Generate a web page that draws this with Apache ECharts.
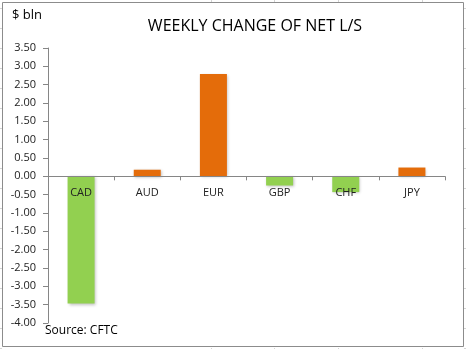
<!DOCTYPE html>
<html>
<head>
<meta charset="utf-8">
<script src="https://cdn.jsdelivr.net/npm/echarts@6/dist/echarts.min.js"></script>
<style>
  html, body { margin: 0; padding: 0; background: #fff; }
  #chart { width: 466px; height: 349px; }
</style>
</head>
<body>
<div id="chart"></div>
<script>
// Weekly change of net long/short positioning, $ bln
const currencies = ['CAD', 'AUD', 'EUR', 'GBP', 'CHF', 'JPY'];
const weeklyChange = [-3.47, 0.18, 2.79, -0.25, -0.43, 0.24];
const yTicks = { min: -4.0, max: 3.5, step: 0.5 };

const POS_COLOR = '#E46C0A';
const NEG_COLOR = '#92D050';

const chart = echarts.init(document.getElementById('chart'), null, { renderer: 'canvas' });

// faint spreadsheet cell lines around the chart frame
const cellLines = [];
for (let y = 8; y < 349; y += 20) {
  cellLines.push({ type: 'line', shape: { x1: 0, y1: y + 0.5, x2: 2, y2: y + 0.5 }, style: { stroke: '#d4d4d4', lineWidth: 1 }, silent: true });
  cellLines.push({ type: 'line', shape: { x1: 464, y1: y + 0.5, x2: 466, y2: y + 0.5 }, style: { stroke: '#d4d4d4', lineWidth: 1 }, silent: true });
}
[211, 274, 338, 422].forEach(x => {
  cellLines.push({ type: 'line', shape: { x1: x + 0.5, y1: 0, x2: x + 0.5, y2: 2 }, style: { stroke: '#d4d4d4', lineWidth: 1 }, silent: true });
  cellLines.push({ type: 'line', shape: { x1: x + 0.5, y1: 348, x2: x + 0.5, y2: 349 }, style: { stroke: '#d4d4d4', lineWidth: 1 }, silent: true });
});

chart.setOption({
  animation: false,
  backgroundColor: '#fff',
  title: {
    text: 'WEEKLY CHANGE OF NET L/S',
    left: 250,
    textAlign: 'center',
    top: 13,
    textStyle: { fontFamily: 'Open Sans', fontSize: 16, fontWeight: 'normal', color: '#000' }
  },
  grid: { left: 48, right: 21, top: 48, bottom: 26, containLabel: false },
  xAxis: {
    type: 'category',
    data: currencies,
    z: 10,
    axisLine: { onZero: false, lineStyle: { color: '#868686', width: 1 } },
    axisTick: { show: true, alignWithLabel: false, length: 4, lineStyle: { color: '#868686' } },
    axisLabel: { margin: 11, fontFamily: 'Open Sans', fontSize: 11, color: '#222' },
    splitLine: { show: false }
  },
  yAxis: {
    type: 'value',
    min: yTicks.min,
    max: yTicks.max,
    interval: yTicks.step,
    axisLine: { show: true, lineStyle: { color: '#868686', width: 1 } },
    axisTick: { show: true, length: 5, lineStyle: { color: '#868686' } },
    axisLabel: {
      margin: 12,
      fontFamily: 'Open Sans',
      fontSize: 11,
      color: '#222',
      formatter: v => v.toFixed(2)
    },
    splitLine: { show: false }
  },
  series: [{
    type: 'bar',
    data: weeklyChange,
    barWidth: 27,
    itemStyle: {
      color: p => (p.value >= 0 ? POS_COLOR : NEG_COLOR),
      shadowColor: 'rgba(0,0,0,0.25)',
      shadowBlur: 3,
      shadowOffsetX: 1,
      shadowOffsetY: 1
    }
  }],
  graphic: cellLines.concat([
    {
      type: 'rect',
      shape: { x: 2.5, y: 2.5, width: 461, height: 344 },
      style: { fill: 'none', stroke: '#8c8c8c', lineWidth: 1 },
      silent: true,
      z: 100
    },
    {
      type: 'text',
      left: 12,
      top: 9,
      style: { text: '$ bln', font: '13px "Open Sans"', fill: '#000' }
    },
    {
      type: 'text',
      left: 45,
      top: 325,
      style: { text: 'Source: CFTC', font: '12px "Open Sans"', fill: '#000' }
    }
  ])
});

// Lift the category axis (line, ticks and labels) up to the zero value
const zeroY = chart.convertToPixel({ yAxisIndex: 0 }, 0);
const bottomY = chart.convertToPixel({ yAxisIndex: 0 }, yTicks.min);
chart.setOption({ xAxis: { offset: -(bottomY - zeroY) } });
</script>
</body>
</html>
